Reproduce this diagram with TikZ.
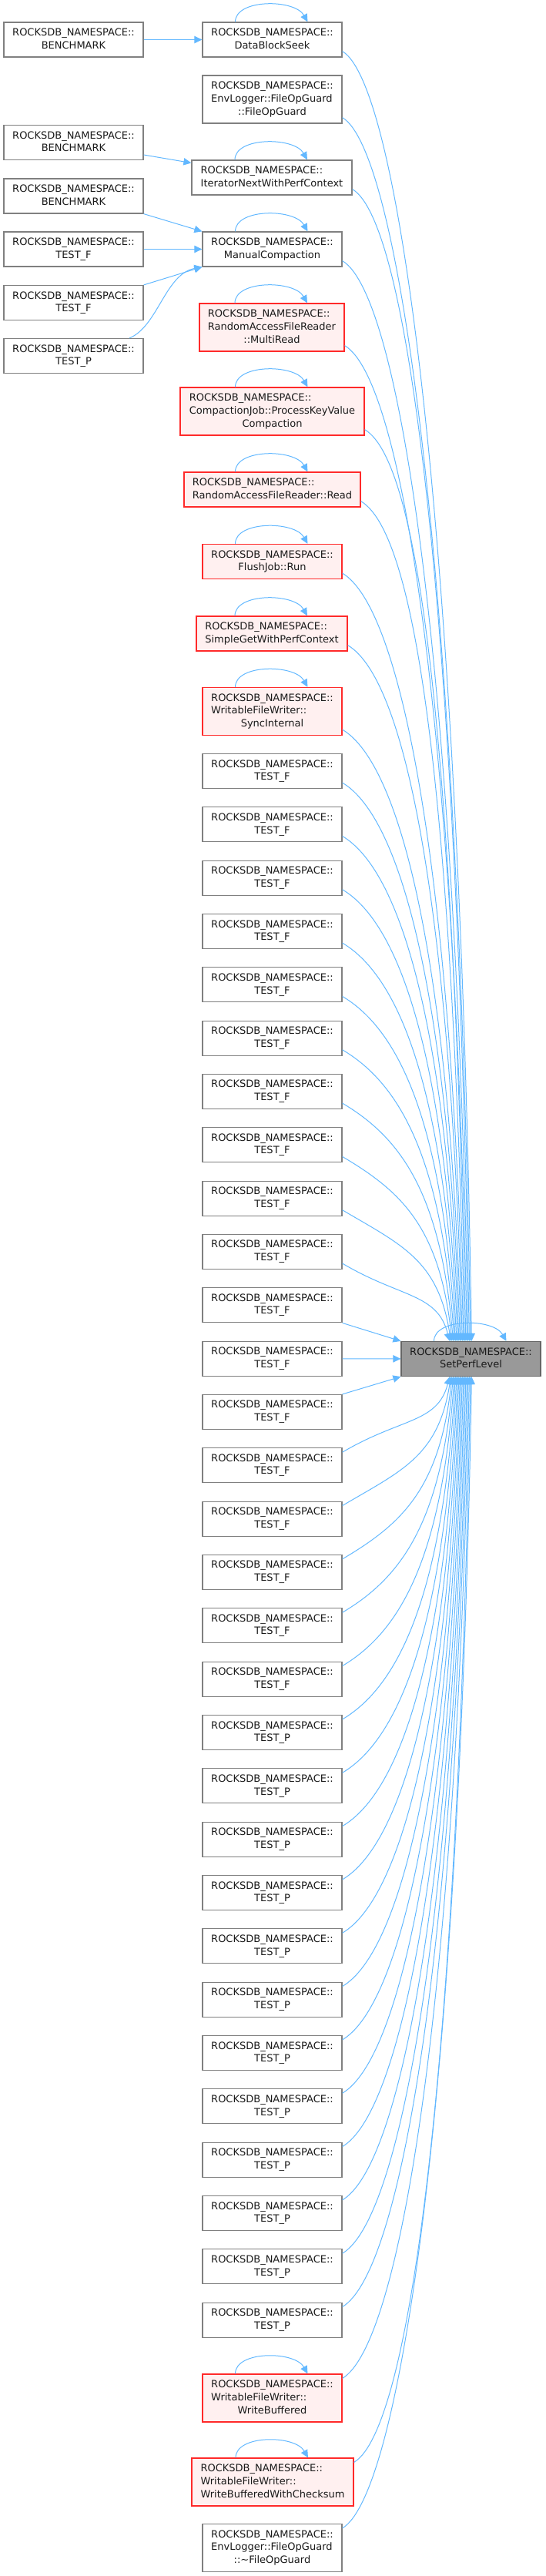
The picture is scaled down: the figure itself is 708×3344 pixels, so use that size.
\documentclass[tikz,border=0pt]{standalone}
\usepackage{fontspec}
\setmainfont{DejaVu Sans}
\usepackage{tikz}
\usetikzlibrary{calc,arrows.meta}
\definecolor{edgec}{HTML}{63B8FF}
\definecolor{bordc}{HTML}{808080}
\definecolor{hotc}{HTML}{FF2A2A}
\definecolor{hotbg}{HTML}{FFF0F0}
\definecolor{mainbg}{HTML}{999999}
\definecolor{txtc}{HTML}{1A1A1A}
\newcommand\rlab[2]{\begin{tabular}{@{}l@{}}ROCKSDB\_NAMESPACE::#1\\\multicolumn{1}{@{}c@{}}{#2}\end{tabular}}
\tikzset{
  ar/.style={-{Triangle[length=7.5pt,width=7pt]},line width=0.75pt,edgec},
  box/.style={draw=bordc,line width=0.9pt,fill=white,inner sep=0pt,minimum width=135.75pt,minimum height=33.75pt,text=txtc,font=\fontsize{9.75}{12.5}\selectfont},
  hot/.style={box,draw=hotc,fill=hotbg},
  tall/.style={minimum height=46.5pt},
  wd/.style={minimum width=#1*0.75pt}
}
\begin{document}
\begin{tikzpicture}[x=0.75pt,y=-0.75pt]
\useasboundingbox (0,0) rectangle (708,3344);
\node[box] (bm1) at (95.5,51.5) {\rlab{}{BENCHMARK}};
\node[box] (bm2) at (95.5,185) {\rlab{}{BENCHMARK}};
\node[box] (bm3) at (95.5,254.5) {\rlab{}{BENCHMARK}};
\node[box] (lf1) at (95.5,323.5) {\rlab{}{TEST\_F}};
\node[box] (lf2) at (95.5,393) {\rlab{}{TEST\_F}};
\node[box] (lp1) at (95.5,462) {\rlab{}{TEST\_P}};
\node[box] (dbs) at (353.5,51.5) {\rlab{}{DataBlockSeek}};
\node[box,tall] (fog) at (353.5,129) {\rlab{\\EnvLogger::FileOpGuard}{::FileOpGuard}};
\node[box,wd=208] (itn) at (353,230.5) {\rlab{}{IteratorNextWithPerfContext}};
\node[box] (mc) at (353.5,323.5) {\rlab{}{ManualCompaction}};
\node[hot,tall,wd=188] (mr) at (353,425) {\rlab{\\RandomAccessFileReader}{::MultiRead}};
\node[hot,tall,wd=239] (pkv) at (353.5,534) {\rlab{\\CompactionJob::ProcessKeyValue}{Compaction}};
\node[hot,wd=229] (rd) at (353.5,635.5) {\rlab{}{RandomAccessFileReader::Read}};
\node[hot] (fr) at (353.5,729) {\rlab{}{FlushJob::Run}};
\node[hot,wd=196] (sg) at (353,822.5) {\rlab{}{SimpleGetWithPerfContext}};
\node[hot,tall] (si) at (353.5,923.5) {\rlab{\\WritableFileWriter::}{SyncInternal}};
\foreach \i in {0,...,17}
  \node[box] (tf\i) at (353.5,{1001+69.33*\i}) {\rlab{}{TEST\_F}};
\foreach \i in {0,...,11}
  \node[box] (tp\i) at (353.5,{2249+69.33*\i}) {\rlab{}{TEST\_P}};
\node[hot,tall] (wb) at (353.5,3113) {\rlab{\\WritableFileWriter::}{WriteBuffered}};
\node[hot,tall,wd=210] (wbc) at (354,3222) {\rlab{\\WritableFileWriter::}{WriteBufferedWithChecksum}};
\node[box,tall] (dfog) at (353.5,3307.5) {\rlab{\\EnvLogger::FileOpGuard}{::\textasciitilde FileOpGuard}};
\node[box,fill=mainbg,draw=bordc!80!black] (spl) at (611.5,1764) {\rlab{}{SetPerfLevel}};

\draw[ar] (bm1) -- (dbs);
\draw[ar] ($(bm2.east)+(0,16)$) -- ($(itn.west)+(0,-19)$);
\draw[ar] (bm3.south east) -- (mc.north west);
\draw[ar] (lf1) -- (mc);
\draw[ar] (lf2.north east) -- (mc.south west);
\draw[ar] ($(lp1.north)+(72.5,0)$) .. controls +(37,-15) and +(-48,9) .. (mc.south west);
\foreach \n in {dbs,itn,mc,mr,pkv,rd,fr,sg,si,wb,wbc,spl}
  \draw[ar] ($(\n.north)+(-48,0)$) .. controls +(0,-30) and +(-17,-30) .. ($(\n.north)+(46,0)$);
\foreach \s [count=\k] in {dbs,fog,itn,mc,mr,pkv,rd,fr,sg,si,tf0,tf1,tf2,tf3,tf4,tf5,tf6,tf7,tf8,tf9}
  \draw[ar] let \p1=($(\s.south east)+(0,-8)$), \p2=($(spl.north west)+({93.5-1.5*\k},0)$) in
    (\p1) .. controls ($(\p1)+(76,45)$) and (\x2-12pt,{\y1+0.38*(\y2-\y1)}) .. (\p2);
\foreach \s [count=\k] in {dfog,wbc,wb,tp11,tp10,tp9,tp8,tp7,tp6,tp5,tp4,tp3,tp2,tp1,tp0,tf17,tf16,tf15,tf14,tf13}
  \draw[ar] let \p1=($(\s.north east)+(0,6)$), \p2=($(spl.south west)+({93.5-1.5*\k},0)$) in
    (\p1) .. controls ($(\p1)+(76,-45)$) and (\x2-12pt,{\y1+0.38*(\y2-\y1)}) .. (\p2);
\draw[ar] (tf10.south east) -- (spl.north west);
\draw[ar] (tf11) -- (spl);
\draw[ar] (tf12.north east) -- (spl.south west);
\end{tikzpicture}
\end{document}
